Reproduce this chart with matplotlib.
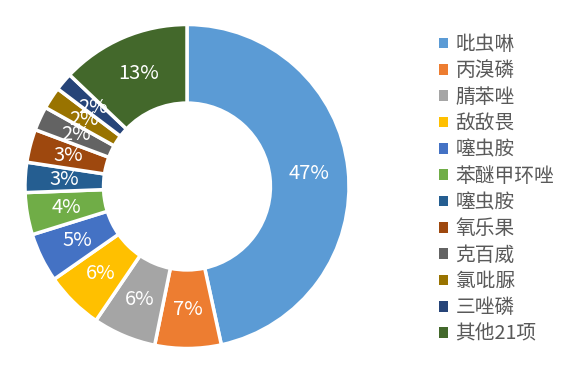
import numpy as np
import matplotlib.pyplot as plt
from matplotlib.patches import Patch

plt.rcParams['font.family'] = ['Noto Sans CJK SC', 'DejaVu Sans']

names = ['吡虫啉', '丙溴磷', '腈苯唑', '敌敌畏', '噻虫胺', '苯醚甲环唑',
         '噻虫胺', '氧乐果', '克百威', '氯吡脲', '三唑磷', '其他21项']
# shares (percent), labels are the rounded values shown
shares = [46.6, 6.6, 6.3, 5.8, 4.9, 4.2, 3.0, 3.3, 2.4, 2.2, 1.8, 12.9]
pct_labels = ['47%', '7%', '6%', '6%', '5%', '4%', '3%', '3%', '2%', '2%', '2%', '13%']
colors = ['#5B9BD5', '#ED7D31', '#A5A5A5', '#FFC000', '#4472C4', '#70AD47',
          '#255E91', '#9E480E', '#636363', '#997300', '#264478', '#43682B']

W, H = 580, 371
fig = plt.figure(figsize=(W / 100, H / 100), dpi=100)

# donut centre ~ (187, 186.5) px from top-left, outer radius ~162 px, hole ~83 px
cx, cy, r = 187, 186.5, 162
ax = fig.add_axes([(cx - r) / W, (H - cy - r) / H, 2 * r / W, 2 * r / H])

ring = 0.485
wedges, _ = ax.pie(shares, colors=colors, startangle=90, counterclock=False,
                   radius=1.0, wedgeprops=dict(width=ring, edgecolor='white', linewidth=2.5))
ax.set_xlim(-1, 1)
ax.set_ylim(-1, 1)
ax.set_aspect('equal')
ax.axis('off')

# labels in the middle of the ring
total = sum(shares)
ang = 90.0
rl = 1 - ring / 2
for v, lab in zip(shares, pct_labels):
    mid = ang - v / total * 180
    ang -= v / total * 360
    ax.text(rl * np.cos(np.radians(mid)), rl * np.sin(np.radians(mid)), lab,
            ha='center', va='center', color='white', fontsize=14.5)

handles = [Patch(facecolor=c, edgecolor='none') for c in colors]
fig.legend(handles, names, loc='upper left', bbox_to_anchor=(439 / W, 1 - 34 / H),
           frameon=False, fontsize=14.2, labelcolor='#595959',
           handlelength=0.46, handleheight=0.46, handletextpad=0.38, labelspacing=0.27,
           borderaxespad=0, borderpad=0)

fig.savefig('out.png', dpi=100)
